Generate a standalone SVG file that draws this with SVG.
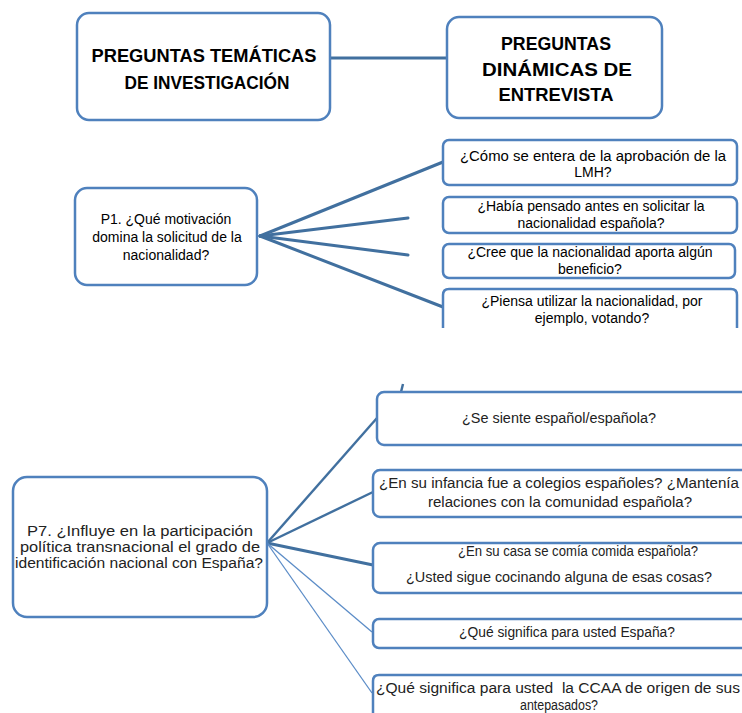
<svg xmlns="http://www.w3.org/2000/svg" width="742" height="713" viewBox="0 0 742 713">
<style>
.box{fill:#fff;stroke:#4f81bd;stroke-width:2.5}
.hd{font-family:"Liberation Sans",Arial,sans-serif;font-weight:bold;font-size:19px;fill:#000;text-anchor:middle}
.t{font-family:"Liberation Sans",Arial,sans-serif;font-size:14px;fill:#000;text-anchor:middle}
.s{font-family:"Liberation Sans",Arial,sans-serif;font-size:14px;fill:#222;text-anchor:middle}
.c{stroke:#41709f;stroke-width:3;fill:none;stroke-linecap:round}
.c2{stroke:#41709f;stroke-width:2.4;fill:none}
.c3{stroke:#5b8cc7;stroke-width:1.3;fill:none}
</style>
<rect width="742" height="713" fill="#fff"/>
<g id="connectors">
<line class="c" x1="330" y1="58" x2="447" y2="58"/>
<line class="c" x1="260" y1="236" x2="443" y2="162"/>
<line class="c" x1="260" y1="236" x2="408" y2="218"/>
<line class="c" x1="260" y1="236" x2="408" y2="255"/>
<line class="c" x1="260" y1="236" x2="443" y2="307"/>
<line class="c2" x1="267" y1="543" x2="377" y2="418"/>
<line class="c2" x1="267" y1="543" x2="373" y2="492"/>
<line class="c" x1="267" y1="543" x2="373" y2="565"/>
<line class="c3" x1="267" y1="543" x2="372" y2="632"/>
<line class="c3" x1="267" y1="543" x2="372" y2="693"/>
<line class="c2" x1="403" y1="384" x2="401" y2="392"/>
</g>
<g id="n-tematicas">
<rect class="box" x="77" y="13" width="253" height="107" rx="12"/>
<text class="hd" x="204" y="62" textLength="225" lengthAdjust="spacingAndGlyphs">PREGUNTAS TEMÁTICAS</text>
<text class="hd" x="207" y="89" textLength="165" lengthAdjust="spacingAndGlyphs">DE INVESTIGACIÓN</text>
</g>
<g id="n-dinamicas">
<rect class="box" x="447" y="17" width="215" height="101" rx="12"/>
<text class="hd" x="556" y="50" textLength="110" lengthAdjust="spacingAndGlyphs">PREGUNTAS</text>
<text class="hd" x="557" y="76" textLength="150" lengthAdjust="spacingAndGlyphs">DINÁMICAS DE</text>
<text class="hd" x="556" y="101" textLength="115" lengthAdjust="spacingAndGlyphs">ENTREVISTA</text>
</g>
<g id="n-p1">
<rect class="box" x="75" y="188" width="182" height="97" rx="12"/>
<text class="t" x="166" y="224">P1. ¿Qué motivación</text>
<text class="t" x="167" y="242">domina la solicitud de la</text>
<text class="t" x="166" y="260">nacionalidad?</text>
</g>
<g id="n-p1a">
<rect class="box" x="443" y="140" width="294" height="45" rx="6"/>
<text class="t" x="593" y="161" textLength="266" lengthAdjust="spacingAndGlyphs">¿Cómo se entera de la aprobación de la</text>
<text class="t" x="593" y="177">LMH?</text>
</g>
<g id="n-p1b">
<rect class="box" x="443" y="197" width="294" height="36" rx="6"/>
<text class="t" x="591" y="211">¿Había pensado antes en solicitar la</text>
<text class="t" x="591" y="228">nacionalidad española?</text>
</g>
<g id="n-p1c">
<rect class="box" x="443" y="244" width="292" height="34" rx="6"/>
<text class="t" x="590" y="257">¿Cree que la nacionalidad aporta algún</text>
<text class="t" x="590" y="274">beneficio?</text>
</g>
<g id="n-p1d">
<path class="box" d="M443,328 V295 Q443,289 449,289 H731 Q737,289 737,295 V328"/>
<text class="t" x="592" y="306">¿Piensa utilizar la nacionalidad, por</text>
<text class="t" x="592" y="323">ejemplo, votando?</text>
</g>
<g id="n-p7">
<rect class="box" x="13" y="477" width="254" height="140" rx="14"/>
<text class="s" x="140" y="536" textLength="226" lengthAdjust="spacingAndGlyphs">P7. ¿Influye en la participación</text>
<text class="s" x="140" y="552" textLength="240" lengthAdjust="spacingAndGlyphs">política transnacional el grado de</text>
<text class="s" x="139" y="568" textLength="248" lengthAdjust="spacingAndGlyphs">identificación nacional con España?</text>
</g>
<g id="n-p7a">
<rect class="box" x="377" y="392" width="380" height="53" rx="7"/>
<text class="s" x="559" y="423" textLength="194" lengthAdjust="spacingAndGlyphs">¿Se siente español/española?</text>
</g>
<g id="n-p7b">
<rect class="box" x="373" y="470" width="384" height="47" rx="7"/>
<text class="s" x="559" y="488" textLength="360" lengthAdjust="spacingAndGlyphs">¿En su infancia fue a colegios españoles? ¿Mantenía</text>
<text class="s" x="560" y="507" textLength="264" lengthAdjust="spacingAndGlyphs">relaciones con la comunidad española?</text>
</g>
<g id="n-p7c">
<rect class="box" x="373" y="543" width="384" height="50" rx="7"/>
<text class="s" x="578" y="556" textLength="240" lengthAdjust="spacingAndGlyphs">¿En su casa se comía comida española?</text>
<text class="s" x="559" y="582" textLength="306" lengthAdjust="spacingAndGlyphs">¿Usted sigue cocinando alguna de esas cosas?</text>
</g>
<g id="n-p7d">
<rect class="box" x="373" y="619" width="384" height="29" rx="6"/>
<text class="s" x="567" y="637" textLength="216" lengthAdjust="spacingAndGlyphs">¿Qué significa para usted España?</text>
</g>
<g id="n-p7e">
<path class="box" d="M373,716 V681 Q373,675 379,675 H760"/>
<text class="s" x="558" y="693" textLength="364" lengthAdjust="spacingAndGlyphs" xml:space="preserve">¿Qué significa para usted  la CCAA de origen de sus</text>
<text class="s" x="559" y="710" textLength="78" lengthAdjust="spacingAndGlyphs">antepasados?</text>
</g>
</svg>
